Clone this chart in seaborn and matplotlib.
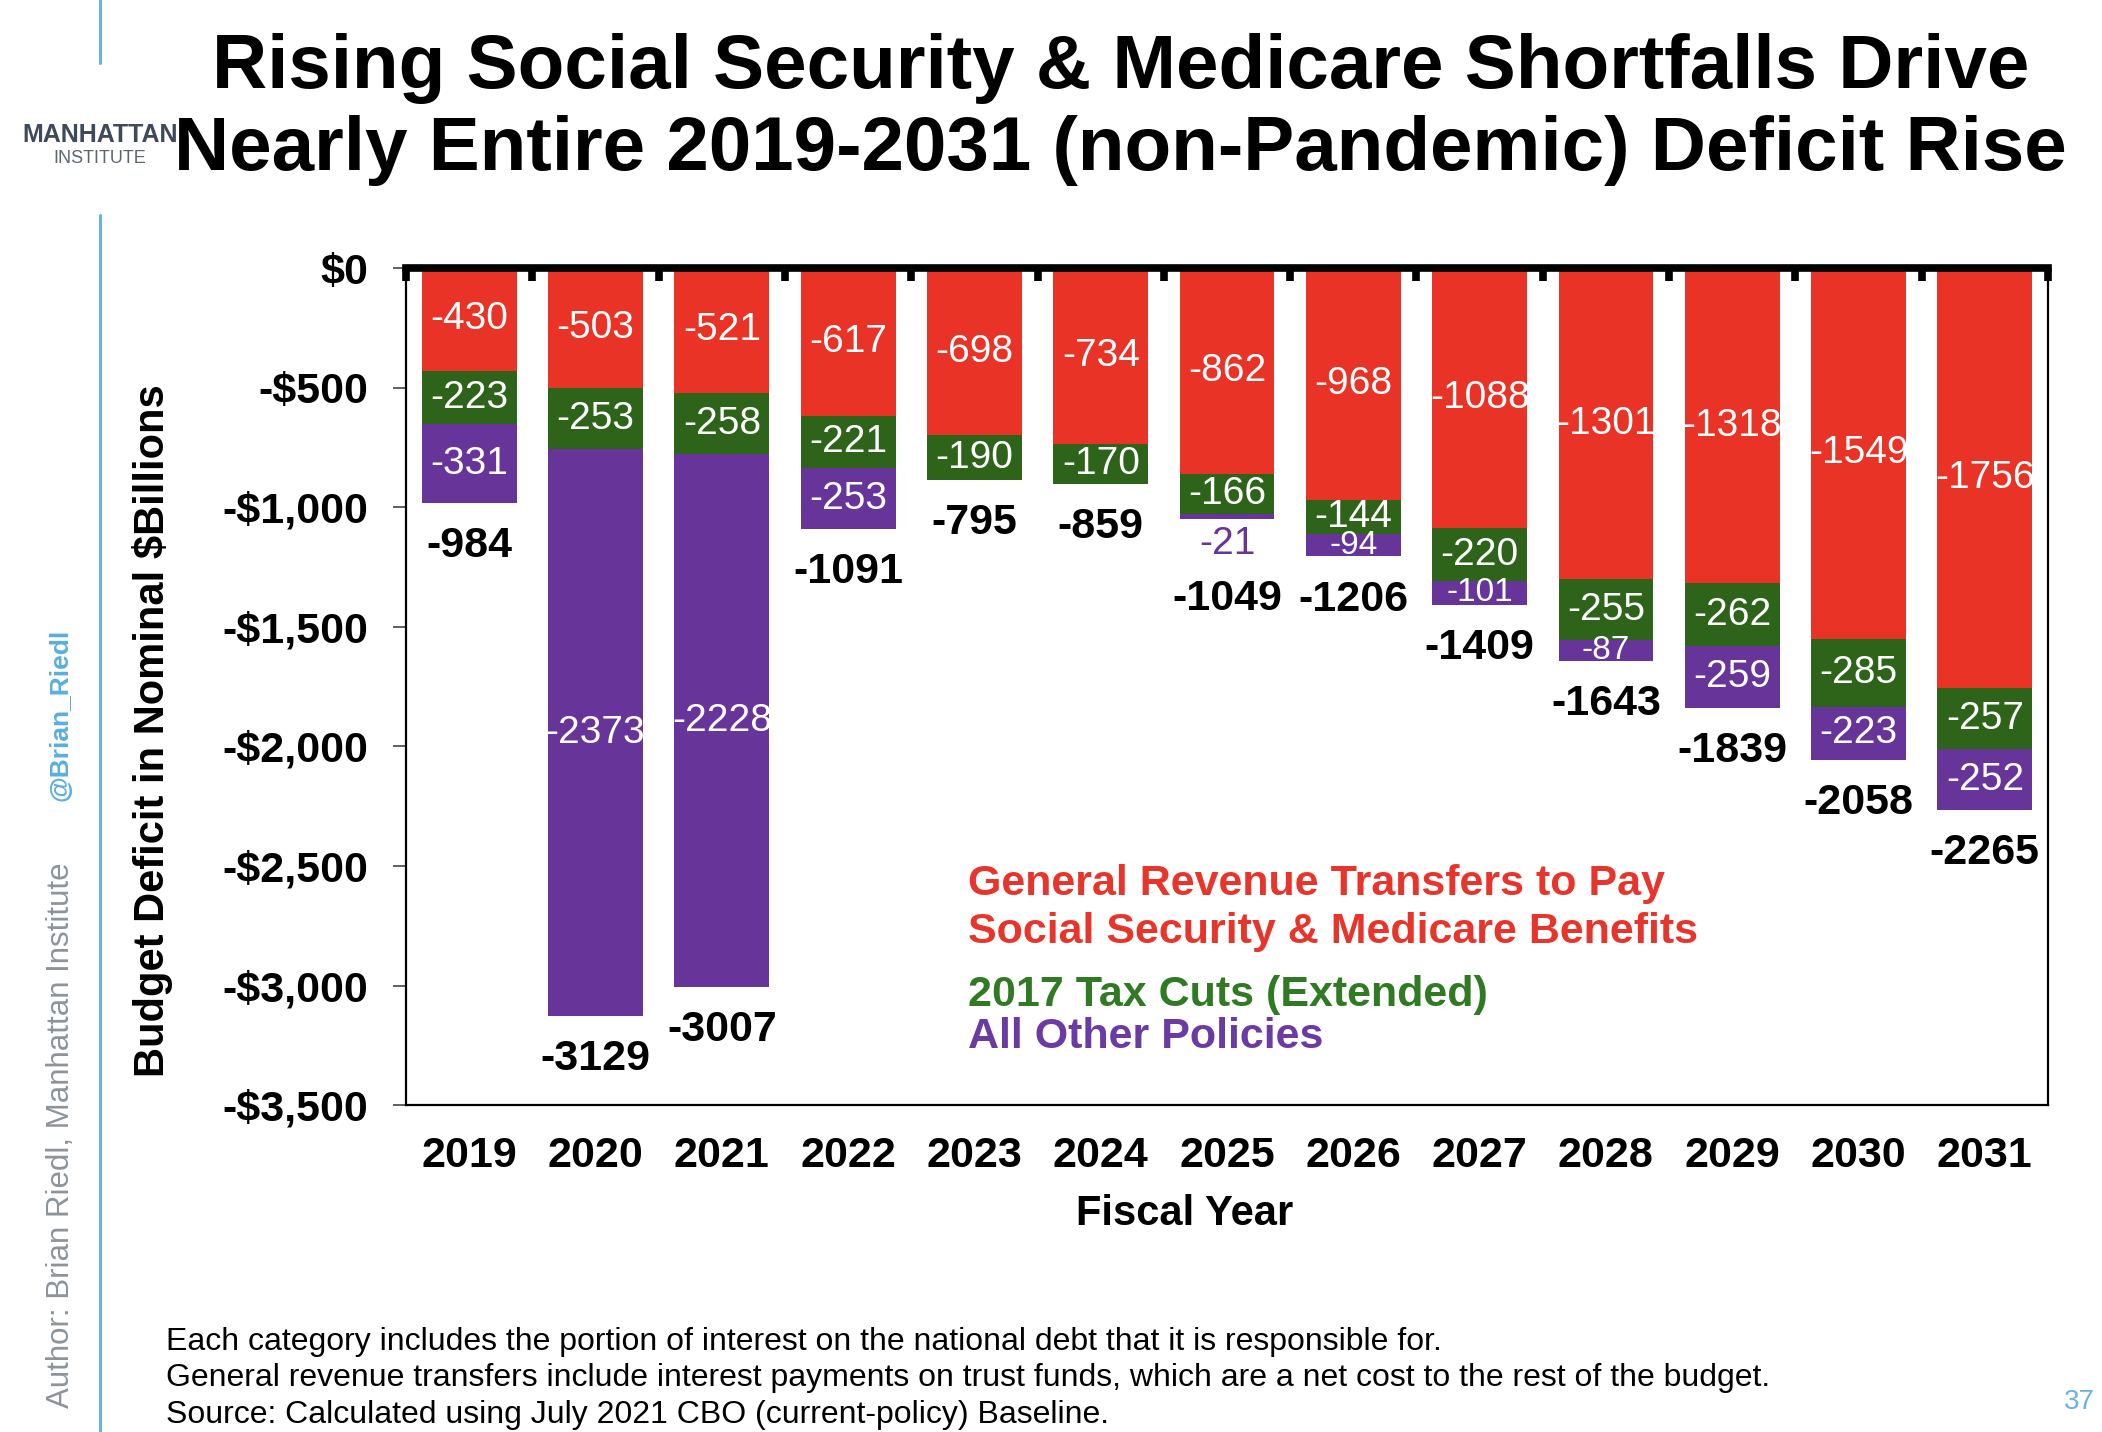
import numpy as np
import pandas as pd
import matplotlib
matplotlib.use("Agg")
import matplotlib.pyplot as plt
from matplotlib.lines import Line2D
from matplotlib.ticker import FixedLocator
import seaborn as sns

# fiscal years and components of the deficit ($ billions)
years = ["2019", "2020", "2021", "2022", "2023", "2024", "2025",
         "2026", "2027", "2028", "2029", "2030", "2031"]
general_revenue = [-430, -503, -521, -617, -698, -734, -862,
                   -968, -1088, -1301, -1318, -1549, -1756]
tax_cuts = [-223, -253, -258, -221, -190, -170, -166,
            -144, -220, -255, -262, -285, -257]
# no label shown for 2023 / 2024 (small offsetting surplus)
other_policies = [-331, -2373, -2228, -253, np.nan, np.nan, -21,
                  -94, -101, -87, -259, -223, -252]
total_deficit = [-984, -3129, -3007, -1091, -795, -859, -1049,
                 -1206, -1409, -1643, -1839, -2058, -2265]

ytick_values = [0, -500, -1000, -1500, -2000, -2500, -3000, -3500]
ytick_labels = ["$0", "-$500", "-$1,000", "-$1,500", "-$2,000",
                "-$2,500", "-$3,000", "-$3,500"]

RED = "#E83326"
GREEN = "#2D6419"
PURPLE = "#673499"
BLUE = "#6AB2E2"

df = pd.DataFrame({
    "year": years,
    "general": general_revenue,
    "tax": tax_cuts,
    "other": other_policies,
    "total": total_deficit,
})
df["general_tax"] = df["general"] + df["tax"]

sns.set_style("white")
plt.rcParams["font.family"] = ["Liberation Sans", "DejaVu Sans"]
plt.rcParams["text.color"] = "black"
plt.rcParams["axes.labelcolor"] = "black"
plt.rcParams["xtick.color"] = "black"
plt.rcParams["ytick.color"] = "black"

fig = plt.figure(figsize=(21.02, 14.32), dpi=100)
ax = fig.add_axes([0.1932, 0.2283, 0.7811, 0.5845])

# stacked look: deepest layer first, then overdraw the upper segments
for col, color in [("total", PURPLE), ("general_tax", GREEN), ("general", RED)]:
    sns.barplot(data=df, x="year", y=col, order=years, color=color,
                saturation=1, width=0.75, errorbar=None, linewidth=0, ax=ax)

ax.set_ylim(-3500, 0)
ax.set_xlim(-0.5, len(years) - 0.5)

ax.set_yticks(ytick_values, labels=ytick_labels, fontsize=31, fontweight="bold")
ax.tick_params(axis="y", which="major", left=True, length=9.5, width=1.2,
               color="#444444", pad=18)

ax.set_xticks(range(len(years)), labels=years, fontsize=31, fontweight="bold")
ax.tick_params(axis="x", which="major", bottom=False, length=0, pad=22)
ax.xaxis.set_minor_locator(FixedLocator(np.arange(-0.5, len(years), 1.0)))
ax.tick_params(axis="x", which="minor", bottom=False, top=True,
               direction="in", length=9.5, width=5.5, color="black")

for side, spine in ax.spines.items():
    spine.set_visible(True)
    spine.set_color("black")
    spine.set_linewidth(1.6)
ax.spines["top"].set_linewidth(5.5)
ax.spines["top"].set_zorder(5)

ax.set_xlabel("Fiscal Year", fontsize=30, fontweight="bold")
ax.xaxis.set_label_coords(0.474, -0.106)
ax.set_ylabel("Budget Deficit in Nominal $Billions", fontsize=30, fontweight="bold")
ax.yaxis.set_label_coords(-0.142, 0.447)

# segment and total labels
for i, row in df.iterrows():
    g, t, o, tot = row["general"], row["tax"], row["other"], row["total"]
    ax.text(i, g / 2, f"{g}", ha="center", va="center", color="white", fontsize=28)
    ax.text(i, g + t / 2, f"{t}", ha="center", va="center", color="white", fontsize=28)
    bottom = min(tot, g + t)
    total_offset = -31
    if not np.isnan(o):
        o = int(o)
        if abs(o) < 50:
            ax.annotate(f"{o}", xy=(i, bottom), xytext=(0, -18),
                        textcoords="offset points", ha="center", va="center",
                        color=PURPLE, fontsize=28)
            total_offset = -58
        elif abs(o) < 120:
            # thin segment: smaller label that stays inside the strip
            ax.text(i, g + t + o / 2, f"{o}", ha="center", va="center",
                    color="white", fontsize=24)
        else:
            ax.text(i, g + t + o / 2, f"{o}", ha="center", va="center",
                    color="white", fontsize=28)
    ax.annotate(f"{tot}", xy=(i, bottom), xytext=(0, total_offset),
                textcoords="offset points", ha="center", va="center",
                color="black", fontsize=31, fontweight="bold")

# legend written as coloured text inside the plot
fig.text(0.4605, 0.375, "General Revenue Transfers to Pay", color="#E8352B",
         fontsize=31, fontweight="bold", va="baseline")
fig.text(0.4605, 0.3415, "Social Security & Medicare Benefits", color="#E8352B",
         fontsize=31, fontweight="bold", va="baseline")
fig.text(0.4605, 0.2975, "2017 Tax Cuts (Extended)", color="#2F7A22",
         fontsize=31, fontweight="bold", va="baseline")
fig.text(0.4605, 0.2682, "All Other Policies", color="#6B3AA3",
         fontsize=31, fontweight="bold", va="baseline")

# title
fig.text(0.533, 0.9385, "Rising Social Security & Medicare Shortfalls Drive",
         fontsize=55, fontweight="bold", ha="center", va="baseline")
fig.text(0.533, 0.8813, "Nearly Entire 2019-2031 (non-Pandemic) Deficit Rise",
         fontsize=55, fontweight="bold", ha="center", va="baseline")

# logo
fig.text(0.0105, 0.9008, "MANHATTAN", fontsize=18, fontweight="bold",
         color="#3E4A5C", va="baseline", ha="left")
fig.text(0.0475, 0.8862, "INSTITUTE", fontsize=13, color="#5C6670",
         va="baseline", ha="center")

# blue page rule and author credit
fig.add_artist(Line2D([0.0476, 0.0476], [1.0, 0.956], color=BLUE, lw=2.2,
                      transform=fig.transFigure))
fig.add_artist(Line2D([0.0476, 0.0476], [0.85, 0.0], color=BLUE, lw=2.2,
                      transform=fig.transFigure))
fig.text(0.029, 0.501, "@Brian_Riedl", rotation=90, fontsize=19,
         fontweight="bold", color="#5AAEE0", ha="center", va="center")
fig.text(0.029, 0.2074, "Author: Brian Riedl, Manhattan Institute", rotation=90,
         fontsize=22.5, color="#8C9399", ha="center", va="center")

# footnotes
fig.text(0.079, 0.0573,
         "Each category includes the portion of interest on the national debt that it is responsible for.",
         fontsize=23, va="baseline")
fig.text(0.079, 0.0321,
         "General revenue transfers include interest payments on trust funds, which are a net cost to the rest of the budget.",
         fontsize=23, va="baseline")
fig.text(0.079, 0.0063,
         "Source: Calculated using July 2021 CBO (current-policy) Baseline.",
         fontsize=23, va="baseline")
fig.text(0.989, 0.016, "37", fontsize=20, color=BLUE, ha="center", va="baseline")

fig.savefig("out.png", dpi=100)
